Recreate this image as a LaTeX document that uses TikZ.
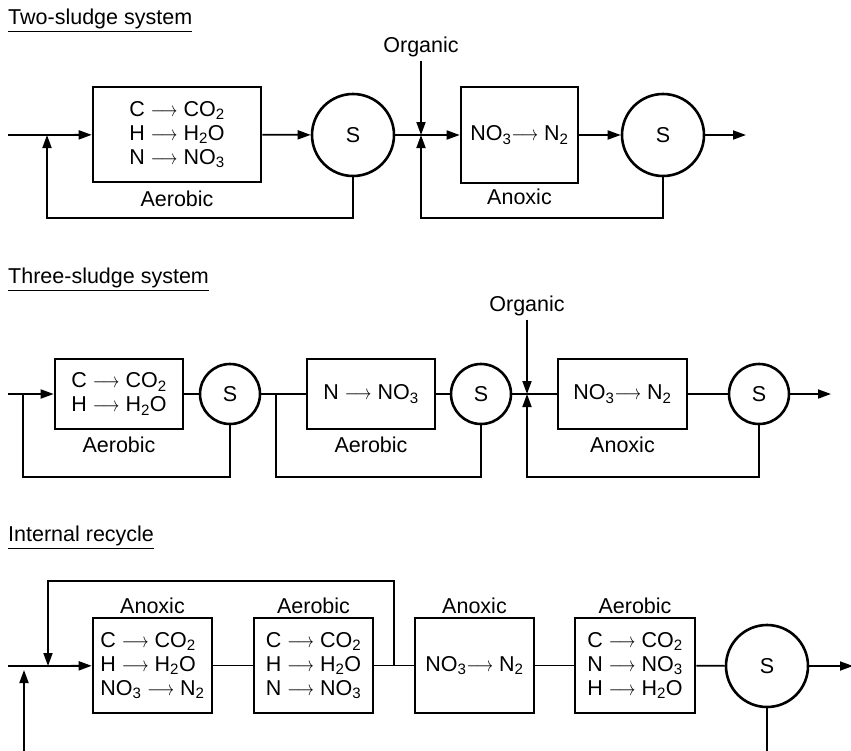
\documentclass[tikz,border=0pt]{standalone}
\usepackage{fontspec}
\setmainfont{Liberation Sans}
\usepackage{graphicx}
\usetikzlibrary{arrows.meta}
\newcommand{\yld}{\scalebox{0.8}[1]{$\longrightarrow$}}
\tikzset{
  tank/.style={draw, line width=2.6pt, align=left, inner sep=0pt},
  settler/.style={draw, circle, line width=2.6pt, minimum size=#1, inner sep=0pt},
  flow/.style={line width=1.8pt, -{Triangle[length=13pt,width=9pt]}},
  pipe/.style={line width=1.8pt},
  heading/.style={anchor=base west, inner sep=0pt},
  feed/.style={inner sep=4pt}
}
\begin{document}
\begin{tikzpicture}[x=1pt, y=-1pt, font=\fontsize{21.5}{24}\selectfont]
          \useasboundingbox (0,0) rectangle (851,750);
          \begin{scope}
            \node[heading] (t1) at (8,24) {Two-sludge system};
            \draw[line width=1.3pt] ([yshift=-7.5pt]t1.base west) -- ([yshift=-7.5pt]t1.base east);
            \coordinate (in1) at (8,135);
            \coordinate (j1) at (47,135);
            \coordinate (b1) at (47,218);
            \node[tank, minimum width=168pt, minimum height=95pt] (aer1) at (177,134.5) {C \yld\ CO\textsubscript{2}\\H \yld\ H\textsubscript{2}O\\N \yld\ NO\textsubscript{3}};
            \node (l1) at (177,199) {Aerobic};
            \node[settler=82pt] (s1) at (353,135) {S};
            \coordinate (j2) at (421,135);
            \coordinate (b2) at (421,218);
            \node[feed] (org1) at (421,46.5) {Organic};
            \node[tank, minimum width=117pt, minimum height=96pt] (an1) at (519.5,135) {NO\textsubscript{3}\yld\ N\textsubscript{2}};
            \node (l2) at (519.5,197) {Anoxic};
            \node[settler=82pt] (s2) at (663,135) {S};
            \coordinate (out1) at (746,135);
            \draw[pipe] (in1) -- (j1);
            \draw[flow] (j1) -- (aer1);
            \draw[flow] (aer1) -- (s1);
            \draw[pipe] (s1) -- (j2);
            \draw[flow] (j2) -- (an1);
            \draw[flow] (an1) -- (s2);
            \draw[flow] (s2) -- (out1);
            \draw[flow] (org1) -- (j2);
            \draw[flow] (s1.south) |- (b1) -- (j1);
            \draw[flow] (s2.south) |- (b2) -- (j2);
          \end{scope}
          \begin{scope}
            \node[heading] (t2) at (8,283) {Three-sludge system};
            \draw[line width=1.3pt] ([yshift=-7.5pt]t2.base west) -- ([yshift=-7.5pt]t2.base east);
            \coordinate (in2) at (8,394);
            \coordinate (j3) at (23,394);
            \coordinate (b3) at (23,477);
            \node[tank, minimum width=128pt, minimum height=70pt] (aer2) at (119,394) {C \yld\ CO\textsubscript{2}\\H \yld\ H\textsubscript{2}O};
            \node (l3) at (119,445) {Aerobic};
            \node[settler=60pt] (s3) at (230,394) {S};
            \coordinate (j4) at (276,394);
            \coordinate (b4) at (276,477);
            \node[tank, minimum width=128pt, minimum height=70pt] (aer3) at (371,394) {N \yld\ NO\textsubscript{3}};
            \node (l4) at (371,445) {Aerobic};
            \node[settler=60pt] (s4) at (481,394) {S};
            \coordinate (j5) at (527,394);
            \coordinate (b5) at (527,477);
            \node[feed] (org2) at (527,305.5) {Organic};
            \node[tank, minimum width=129pt, minimum height=70pt] (an2) at (622.5,394) {NO\textsubscript{3}\yld\ N\textsubscript{2}};
            \node (l5) at (622.5,445) {Anoxic};
            \node[settler=60pt] (s5) at (759,394) {S};
            \coordinate (out2) at (831,394);
            \draw[pipe] (in2) -- (j3);
            \draw[flow] (j3) -- (aer2);
            \draw[pipe] (aer2) -- (s3);
            \draw[pipe] (s3) -- (aer3);
            \draw[pipe] (aer3) -- (s4);
            \draw[pipe] (s4) -- (an2);
            \draw[pipe] (an2) -- (s5);
            \draw[flow] (s5) -- (out2);
            \draw[flow] (org2) -- (j5);
            \draw[pipe] (s3.south) |- (b3) -- (j3);
            \draw[pipe] (s4.south) |- (b4) -- (j4);
            \draw[flow] (s5.south) |- (b5) -- (j5);
          \end{scope}
          \begin{scope}
            \node[heading] (t3) at (8,541) {Internal recycle};
            \draw[line width=1.3pt] ([yshift=-7.5pt]t3.base west) -- ([yshift=-7.5pt]t3.base east);
            \coordinate (in3) at (8,666);
            \coordinate (j6) at (24,666);
            \coordinate (j7) at (48,666);
            \coordinate (r1) at (48,581);
            \coordinate (e2) at (24,752);
            \node[tank, minimum width=119pt, minimum height=95pt] (an3) at (152.5,665.5) {C \yld\ CO\textsubscript{2}\\H \yld\ H\textsubscript{2}O\\NO\textsubscript{3} \yld\ N\textsubscript{2}};
            \node (l6) at (152.5,606) {Anoxic};
            \node[tank, minimum width=119pt, minimum height=95pt] (aer4) at (313.5,665.5) {C \yld\ CO\textsubscript{2}\\H \yld\ H\textsubscript{2}O\\N \yld\ NO\textsubscript{3}};
            \node (l7) at (313.5,606) {Aerobic};
            \coordinate (j8) at (394,666);
            \node[tank, minimum width=119pt, minimum height=95pt] (an4) at (474.5,665.5) {NO\textsubscript{3}\yld\ N\textsubscript{2}};
            \node (l8) at (474.5,606) {Anoxic};
            \node[tank, minimum width=120pt, minimum height=95pt] (aer5) at (635,665.5) {C \yld\ CO\textsubscript{2}\\N \yld\ NO\textsubscript{3}\\H \yld\ H\textsubscript{2}O};
            \node (l9) at (635,606) {Aerobic};
            \node[settler=82pt] (s6) at (767,666) {S};
            \coordinate (e1) at (767,752);
            \coordinate (out3) at (853,666);
            \draw[pipe] (in3) -- (j7);
            \draw[flow] (j7) -- (an3);
            \draw[pipe] (an3) -- (aer4);
            \draw[pipe] (aer4) -- (an4);
            \draw[pipe] (an4) -- (aer5);
            \draw[pipe] (aer5) -- (s6);
            \draw[flow] (s6) -- (out3);
            \draw[flow] (j8) |- (r1) -- (j7);
            \draw[pipe] (s6.south) -- (e1);
            \draw[flow, shorten >=4pt] (e2) -- (j6);
          \end{scope}
        \end{tikzpicture}
\end{document}
